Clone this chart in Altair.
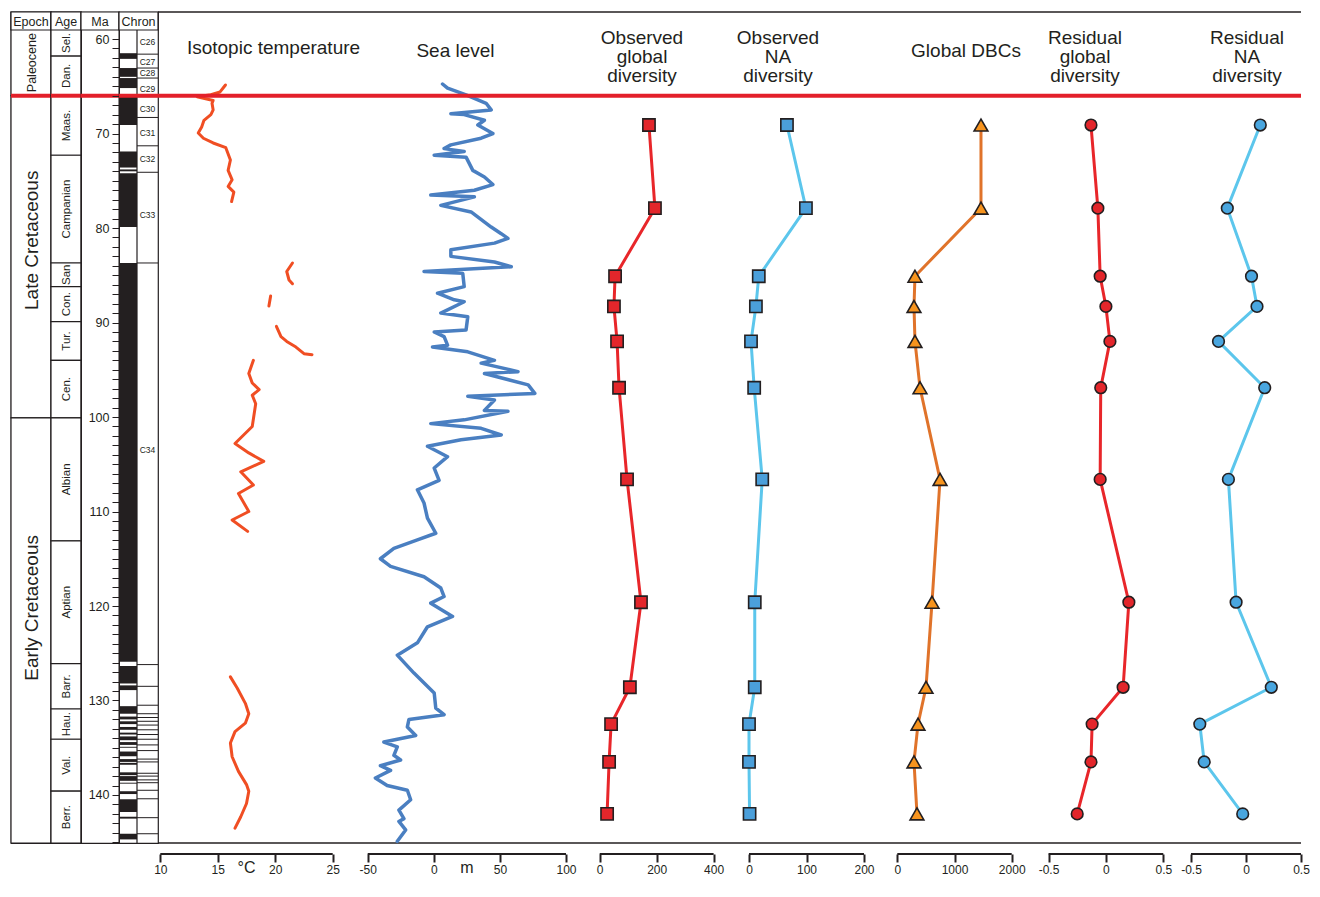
import altair as alt
import pandas as pd

FONT = "Liberation Sans"
INK = "#231f20"
RED = "#e3202a"

# ---------------- data ----------------
KPG_MA = 66.0
MA_TOP, MA_BOT = 57.14, 145.08

epoch_names = ["Paleocene", "Late Cretaceous", "Early Cretaceous"]
epoch_bounds = [MA_TOP, 66.0, 100.1, MA_BOT]
epoch_label_ma = [62.5, 81.3, 120.2]

age_names = ["Sel.", "Dan.", "Maas.", "Campanian", "San", "Con.", "Tur.", "Cen.",
             "Albian", "Aptian", "Barr.", "Hau.", "Val.", "Berr."]
age_bounds = [MA_TOP, 61.8, 66.0, 72.3, 83.7, 86.2, 89.9, 94.0, 100.1, 113.1,
              126.1, 130.9, 134.1, 139.6, MA_BOT]

# normal-polarity (black) intervals
pol_top = [61.5, 63.07, 64.13, 66.1, 71.9, 73.8, 74.2, 83.7, 126.35, 128.4, 130.6,
           131.7, 132.2, 132.8, 133.4, 133.8, 134.4, 134.9, 135.4, 136.2, 136.6,
           137.6, 138.0, 138.7, 139.6, 140.45, 142.3, 144.1]
pol_base = [62.1, 64.0, 65.19, 69.1, 73.6, 74.0, 79.9, 125.9, 128.2, 128.9, 131.4,
            132.0, 132.5, 133.1, 133.6, 134.2, 134.7, 135.0, 135.9, 136.5, 136.8,
            137.9, 138.5, 138.8, 139.9, 141.8, 142.5, 144.7]
chron_lines = [61.6, 63.07, 64.13, 66.1, 68.3, 71.3, 74.1, 83.7, 126.2, 128.5, 130.5,
               131.4, 131.8, 132.2, 132.6, 133.1, 133.6, 134.1, 134.7, 135.3, 136.2,
               136.5, 137.7, 138.0, 138.4, 138.7, 139.5, 140.4, 142.4, 144.1]
chron_names = ["C26", "C27", "C28", "C29", "C30", "C31", "C32", "C33", "C34"]
chron_label_ma = [60.3, 62.4, 63.6, 65.3, 67.4, 69.9, 72.7, 78.6, 103.5]

temp_seg = (["A"] * 20 + ["B"] * 4 + ["C"] * 2 + ["D"] * 6 + ["E"] * 16 + ["F"] * 14)
temp_ma = [64.87, 65.6, 65.9, 66.1, 66.5, 66.8, 67.5, 68.0, 68.6, 69.3, 69.95, 70.5,
           71.0, 71.5, 72.8, 73.9, 74.9, 75.6, 76.2, 77.2,
           83.7, 84.6, 85.5, 85.9,
           87.2, 88.25,
           90.4, 91.5, 92.0, 92.6, 93.3, 93.4,
           94.0, 95.4, 96.4, 97.1, 97.7, 98.6, 101.0, 102.8, 103.8, 104.7, 105.8, 107.2,
           108.1, 110.0, 110.9, 112.1,
           127.5, 128.7, 130.3, 131.4, 132.4, 133.3, 134.5, 135.95, 137.5, 138.9, 139.6,
           140.9, 142.3, 143.5]
temp_c = [15.67, 15.2, 14.4, 13.2, 14.6, 14.5, 14.6, 14.4, 13.8, 13.6, 13.3, 13.75,
          14.6, 15.7, 16.1, 15.9, 16.25, 15.9, 16.4, 16.2,
          21.5, 21.0, 21.2, 21.5,
          19.6, 19.45,
          20.1, 20.5, 21.0, 21.8, 22.5, 23.2,
          18.1, 17.7, 18.0, 18.6, 18.0, 18.3, 18.0, 16.5, 17.7, 19.0, 17.0, 18.1,
          16.8, 17.7, 16.25, 17.6,
          16.1, 16.7, 17.4, 17.7, 17.4, 16.5, 16.1, 16.25, 16.8, 17.5, 17.7,
          17.5, 17.0, 16.5]

sea_ma = [64.76, 65.2, 65.9, 66.8, 67.5, 67.9, 68.0, 68.6, 69.1, 70.0, 70.5, 71.2,
          71.6, 71.9, 72.3, 72.5, 73.9, 74.6, 75.4, 76.0, 76.5, 76.7, 77.6, 78.3,
          79.9, 80.6, 81.1, 81.6, 82.3, 83.0, 83.6, 84.1, 84.6, 84.8, 86.2, 86.9,
          87.6, 87.8, 89.0, 89.4, 90.8, 91.0, 91.5, 92.4, 92.6, 93.1, 94.0, 94.3,
          95.2, 95.4, 96.6, 97.5, 97.8, 98.2, 99.3, 99.4, 100.3, 100.7, 101.2, 101.9,
          102.4, 103.1, 104.2, 105.4, 106.7, 107.7, 109.1, 110.7, 112.3, 113.0, 113.9,
          115.0, 115.8, 116.9, 118.1, 119.0, 119.7, 121.1, 122.2, 123.9, 125.2, 127.1,
          129.2, 130.8, 131.5, 132.0, 132.8, 133.7, 134.4, 134.9, 135.8, 136.3, 136.9,
          137.4, 138.2, 139.0, 139.5, 140.5, 141.6, 142.5, 142.8, 143.7, 144.9]
sea_m = [6.6, 10.4, 24.4, 39.6, 43.4, 12.9, 23.0, 38.3, 33.3, 44.7, 35.8, 12.9,
         7.8, 23.0, 0.3, 24.4, 29.5, 38.3, 44.7, 30.7, -2.3, 30.7, 5.3, 28.2,
         43.4, 51.0, 56.1, 45.9, 12.9, 12.9, 45.9, 58.6, -7.4, 21.9, 23.0, 2.8,
         15.5, 23.0, 5.3, 25.7, 24.4, 0.3, 7.8, 10.4, -1.0, 25.7, 45.9, 35.8,
         63.7, 38.3, 71.4, 76.4, 25.7, 45.9, 38.3, 56.1, 23.0, -2.3, 35.8, 51.0,
         20.6, -4.8, 10.4, 0.3, 4.0, -12.4, -7.4, -4.8, 1.5, -12.4, -30.2,
         -40.4, -32.7, -7.4, 5.3, 7.8, -2.3, 14.2, -4.8, -12.4, -27.6, -15.0,
         0.3, 1.5, 7.8, -18.8, -20.0, -13.7, -37.8, -27.6, -30.2, -25.1, -40.4,
         -32.7, -44.2, -35.3, -20.0, -17.5, -26.4, -22.6, -26.4, -21.3, -27.6]

stage_ma = [69.1, 77.9, 85.1, 88.3, 92.0, 96.9, 106.6, 119.6, 128.6, 132.5, 136.5, 142.0]
obs_global = [173, 194, 54, 50, 61, 68, 96, 145, 106, 40, 33, 26]
obs_na = [66, 99, 17, 12, 3.5, 9, 23, 10, 10, 0, 0, 1]
global_dbc = [1463, 1463, 309, 292, 309, 397, 747, 607, 502, 362, 292, 344]
resid_global = [-0.13, -0.07, -0.05, 0.0, 0.035, -0.045, -0.05, 0.2, 0.15, -0.12, -0.13, -0.25]
resid_na = [0.13, -0.17, 0.05, 0.10, -0.25, 0.17, -0.16, -0.09, 0.23, -0.42, -0.38, -0.03]

ticks_list = [[10, 15, 20, 25], [-50, 0, 50, 100], [0, 200, 400], [0, 100, 200],
              [0, 1000, 2000], [-0.5, 0, 0.5], [-0.5, 0, 0.5]]
panel_titles = ["Isotopic temperature", "Sea level", "Observed\nglobal\ndiversity",
                "Observed\nNA\ndiversity", "Global DBCs", "Residual\nglobal\ndiversity",
                "Residual\nNA\ndiversity"]
units = ["°C", "m", None, None, None, None, None]

# ---------------- layout ----------------
H = 831
HEADER_H = 18
HEADER_MA = MA_TOP + HEADER_H * (MA_BOT - MA_TOP) / H
EDGES = [10, 50, 80, 118, 157, 349, 582, 730, 880, 1029, 1178, 1300]
AXIS_PX = [(159.3, 331.7), (366.7, 565.0), (598.7, 712.6), (748.0, 863.0),
           (896.3, 1010.7), (1047.5, 1162.3), (1190.0, 1300.0)]
TITLE_POS = [(115.5, 42), (105.5, 45), (59, 32), (47, 32), (85, 45), (55, 32), (68, 32)]

yscale = alt.Scale(domain=[MA_TOP, MA_BOT], reverse=True, nice=False, zero=False)
ONE = pd.DataFrame({"k": [0]})


def kpg(axis=None):
    return alt.Chart(pd.DataFrame({"ma": [KPG_MA]})).mark_rule(
        color=RED, strokeWidth=4).encode(y=alt.Y("ma:Q", scale=yscale, axis=axis))


def header(title, W):
    base = alt.Chart(pd.DataFrame({"t": [title]}))
    rect = base.mark_rect(fill="white", stroke=INK, strokeWidth=1.2).encode(
        x=alt.value(0), x2=alt.value(W), y=alt.value(0), y2=alt.value(HEADER_H))
    txt = base.mark_text(font=FONT, fontSize=12.5, color=INK, baseline="middle").encode(
        x=alt.value(W / 2), y=alt.value(HEADER_H / 2 + 1), text="t:N")
    return [rect, txt]


def ts_panel(W, title, layers, axis=None):
    return alt.layer(*layers, *header(title, W), kpg(axis)).properties(
        width=W, height=H, view=alt.ViewBackground(stroke=INK, strokeWidth=1.2))


# Epoch
W0 = EDGES[1] - EDGES[0]
ep_df = pd.DataFrame({"name": epoch_names, "top": epoch_bounds[:-1],
                      "base": epoch_bounds[1:], "lab": epoch_label_ma})
ep_cells = alt.Chart(ep_df).mark_rect(fill="white", stroke=INK, strokeWidth=1.2).encode(
    x=alt.value(0), x2=alt.value(W0),
    y=alt.Y("top:Q", scale=yscale, axis=None), y2="base:Q")
ep_text = alt.Chart(ep_df).mark_text(angle=270, color=INK, font=FONT,
                                     baseline="middle", align="center").encode(
    x=alt.value(W0 / 2 + 1), y=alt.Y("lab:Q", scale=yscale, axis=None), text="name:N",
    size=alt.condition(alt.datum.name == "Paleocene", alt.value(12.5), alt.value(19)))
epoch_panel = ts_panel(W0, "Epoch", [ep_cells, ep_text])

# Age
W1 = EDGES[2] - EDGES[1]
age_df = pd.DataFrame({"name": age_names, "top": age_bounds[:-1], "base": age_bounds[1:]})
age_df["lab"] = [(max(t, HEADER_MA) + b) / 2 for t, b in zip(age_df["top"], age_df["base"])]
age_cells = alt.Chart(age_df).mark_rect(fill="white", stroke=INK, strokeWidth=1.2).encode(
    x=alt.value(0), x2=alt.value(W1),
    y=alt.Y("top:Q", scale=yscale, axis=None), y2="base:Q")
age_text = alt.Chart(age_df).mark_text(angle=270, color=INK, font=FONT, fontSize=11.5,
                                       baseline="middle", align="center").encode(
    x=alt.value(W1 / 2 + 1), y=alt.Y("lab:Q", scale=yscale, axis=None), text="name:N")
age_panel = ts_panel(W1, "Age", [age_cells, age_text])

# Ma (axis drawn by the chron panel's left axis)
W2 = EDGES[3] - EDGES[2]
ma_panel = ts_panel(W2, "Ma", [])

# Chron
W3 = EDGES[4] - EDGES[3]
PCOL = 18
ma_axis = alt.Axis(values=list(range(60, 146)), orient="left",
                   labelExpr="datum.value % 10 == 0 ? datum.label : ''",
                   tickSize=7, tickColor=INK, tickWidth=1, domain=False, grid=False,
                   labelFontSize=12.5, labelColor=INK, labelPadding=3, labelFont=FONT,
                   labelFlush=False, labelOverlap=False, title=None)
pol_df = pd.DataFrame({"top": pol_top, "base": pol_base})
pol = alt.Chart(pol_df).mark_rect(fill=INK, stroke="transparent").encode(
    x=alt.value(0), x2=alt.value(PCOL),
    y=alt.Y("top:Q", scale=yscale, axis=ma_axis), y2="base:Q")
pdiv = alt.Chart(ONE).mark_rule(color=INK, strokeWidth=1.2).encode(x=alt.value(PCOL))
clines = alt.Chart(pd.DataFrame({"ma": chron_lines})).mark_rule(color=INK, strokeWidth=1).encode(
    x=alt.value(PCOL), x2=alt.value(W3), y=alt.Y("ma:Q", scale=yscale, axis=ma_axis))
ctext = alt.Chart(pd.DataFrame({"name": chron_names, "ma": chron_label_ma})).mark_text(
    font=FONT, fontSize=8.5, color=INK, baseline="middle").encode(
    x=alt.value((PCOL + W3) / 2), y=alt.Y("ma:Q", scale=yscale, axis=ma_axis), text="name:N")
chron_panel = ts_panel(W3, "Chron", [pol, pdiv, clines, ctext], axis=ma_axis)


# ---------------- data panels ----------------
def dom(L, R, p0, p1, v0, v1):
    k = (p1 - p0) / (v1 - v0)
    return [v0 - (p0 - L) / k, v1 + (R - p1) / k]


def data_panel(i, df, field, line_color, line_width, marker=None, detail=None):
    L, R = EDGES[4 + i], EDGES[5 + i]
    W = R - L
    ticks = ticks_list[i]
    p0, p1 = AXIS_PX[i]
    xs = alt.Scale(domain=dom(L, R, p0, p1, ticks[0], ticks[-1]), nice=False, zero=False)
    xaxis = alt.Axis(values=ticks, offset=11, domain=False, tickSize=8, tickWidth=2,
                     tickColor=INK, labelFontSize=12, labelColor=INK, labelFont=FONT,
                     labelPadding=2, labelFlush=False, labelOverlap=False, grid=False,
                     title=None, labelExpr="'' + datum.value")
    xenc = alt.X(f"{field}:Q", scale=xs, axis=xaxis)
    yenc = alt.Y("ma:Q", scale=yscale, axis=None)
    layers = []
    for yy in (0, H):
        layers.append(alt.Chart(ONE).mark_rule(color=INK, strokeWidth=1.3).encode(
            x=alt.value(0), x2=alt.value(W), y=alt.value(yy)))
    layers.append(alt.Chart(ONE).mark_rule(color=INK, strokeWidth=2).encode(
        x=alt.X(datum=ticks[0], type="quantitative", scale=xs, axis=xaxis),
        x2=alt.X2(datum=ticks[-1]), y=alt.value(H + 11)))
    enc = dict(x=xenc, y=yenc, order=alt.Order("ma:Q"))
    if detail:
        enc["detail"] = alt.Detail(f"{detail}:N")
    layers.append(alt.Chart(df).mark_line(color=line_color, strokeWidth=line_width,
                                          strokeCap="round", strokeJoin="round").encode(**enc))
    if marker:
        shape, fill, size = marker
        layers.append(alt.Chart(df).mark_point(shape=shape, filled=True, fill=fill,
                                               stroke=INK, strokeWidth=1.6, size=size,
                                               opacity=1).encode(x=xenc, y=yenc))
    tx, ty = TITLE_POS[i]
    layers.append(alt.Chart(ONE).mark_text(font=FONT, fontSize=19, color=INK, align="center",
                                           baseline="alphabetic", lineBreak="\n",
                                           lineHeight=19).encode(
        x=alt.value(tx), y=alt.value(ty), text=alt.value(panel_titles[i])))
    if units[i]:
        layers.append(alt.Chart(ONE).mark_text(font=FONT, fontSize=16, color=INK,
                                               baseline="middle").encode(
            x=alt.X(datum=(ticks[0] + ticks[-1]) / 2, type="quantitative", scale=xs, axis=xaxis),
            y=alt.value(H + 25), text=alt.value(units[i])))
    layers.append(kpg())
    return alt.layer(*layers).properties(width=W, height=H)


temp_df = pd.DataFrame({"ma": temp_ma, "v": temp_c, "seg": temp_seg})
sea_df = pd.DataFrame({"ma": sea_ma, "v": sea_m})
og_df = pd.DataFrame({"ma": stage_ma, "v": obs_global})
na_df = pd.DataFrame({"ma": stage_ma, "v": obs_na})
dbc_df = pd.DataFrame({"ma": stage_ma, "v": global_dbc})
rg_df = pd.DataFrame({"ma": stage_ma, "v": resid_global})
rna_df = pd.DataFrame({"ma": stage_ma, "v": resid_na})

p_temp = data_panel(0, temp_df, "v", "#f04e23", 3, detail="seg")
p_sea = data_panel(1, sea_df, "v", "#4a7fc1", 3.5)
p_og = data_panel(2, og_df, "v", "#e8262a", 3, marker=("square", "#e3262b", 150))
p_na = data_panel(3, na_df, "v", "#5cc6ec", 3, marker=("square", "#4b9fda", 150))
p_dbc = data_panel(4, dbc_df, "v", "#e0732a", 3, marker=("triangle-up", "#f7941e", 190))
p_rg = data_panel(5, rg_df, "v", "#e8262a", 3, marker=("circle", "#e3262b", 135))
p_rna = data_panel(6, rna_df, "v", "#5cc6ec", 3, marker=("circle", "#49a6df", 135))

chart = alt.hconcat(epoch_panel, age_panel, ma_panel, chron_panel, p_temp, p_sea, p_og,
                    p_na, p_dbc, p_rg, p_rna, spacing=0, bounds="flush").resolve_scale(
    x="independent", y="independent").properties(
    padding={"left": 0, "top": 2, "right": 0, "bottom": 0}).configure(
    font=FONT, background="white", view=alt.ViewConfig(stroke="transparent"))

chart.save("out.html", embed_options={"renderer": "svg", "actions": False})
